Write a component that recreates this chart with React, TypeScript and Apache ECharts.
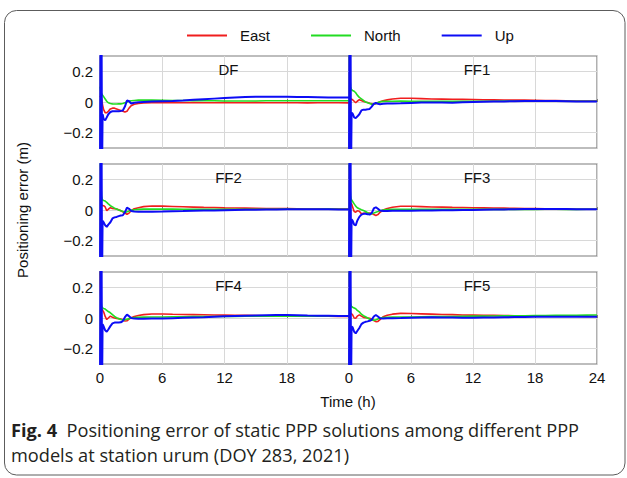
import React, { useEffect, useRef } from "react";
import * as echarts from "echarts";

// Time axis (hours) shared by every panel
const T = [
  0, 0.05, 0.1, 0.15, 0.2, 0.25,
  0.35, 0.5, 0.65, 0.8,
  1.0, 1.2, 1.4, 1.6, 1.8,
  2.0, 2.2, 2.4, 2.6, 2.8,
  3.0, 3.3, 3.7, 4.2,
  5, 6, 7, 8, 9, 10, 11, 12, 13, 14, 15, 16, 17, 18, 19, 20, 21, 22, 23, 24,
];

// DF
const DF_EAST = [
  0.04, 0.04, 0.03, 0.02, 0.0, -0.02,
  -0.05, -0.07, -0.07, -0.06,
  -0.045, -0.04, -0.04, -0.045, -0.05,
  -0.055, -0.06, -0.065, -0.06, -0.04,
  -0.025, -0.015, -0.01, -0.006,
  -0.005, -0.004, -0.004, -0.005, -0.004, -0.005, -0.005, -0.004, -0.005, -0.005, -0.004, -0.005, -0.005, -0.005, -0.005, -0.006, -0.005, -0.005, -0.005, -0.006,
];
const DF_NORTH = [
  0.1, 0.08, 0.06, 0.055, 0.05, 0.045,
  0.035, 0.02, 0.005, -0.005,
  -0.01, -0.012, -0.013, -0.013, -0.012,
  -0.012, -0.01, -0.005, 0.0, 0.005,
  0.008, 0.01, 0.012, 0.012,
  0.012, 0.011, 0.01, 0.01, 0.009, 0.008, 0.008, 0.007, 0.007, 0.007, 0.007, 0.008, 0.008, 0.008, 0.008, 0.008, 0.008, 0.008, 0.008, 0.008,
];
const DF_UP = [
  -0.45, 0.45, -0.45, 0.45, -0.45, -0.08,
  -0.11, -0.12, -0.1, -0.08,
  -0.065, -0.06, -0.06, -0.06, -0.06,
  -0.058, -0.055, -0.03, 0.01, 0.005,
  -0.01, -0.005, -0.002, 0.0,
  0.003, 0.005, 0.007, 0.01, 0.014, 0.018, 0.022, 0.026, 0.03, 0.033, 0.034, 0.035, 0.035, 0.034, 0.033, 0.032, 0.031, 0.03, 0.03, 0.03,
];

// FF1
const FF1_EAST = [
  0.02, 0.02, 0.02, 0.02, 0.02, 0.02,
  0.015, 0.005, -0.005, 0.005,
  0.015, 0.01, 0.003, 0.0, -0.003,
  -0.008, -0.012, -0.015, -0.012, -0.005,
  0.002, 0.008, 0.014, 0.02,
  0.024, 0.024, 0.022, 0.02, 0.019, 0.018, 0.017, 0.016, 0.015, 0.014, 0.013, 0.012, 0.012, 0.011, 0.01, 0.009, 0.008, 0.007, 0.006, 0.006,
];
const FF1_NORTH = [
  0.45, 0.3, 0.15, 0.1, 0.085, 0.08,
  0.075, 0.07, 0.06, 0.045,
  0.03, 0.02, 0.01, 0.0, -0.005,
  -0.01, -0.015, -0.015, -0.01, -0.003,
  0.002, 0.004, 0.005, 0.005,
  0.006, 0.005, 0.005, 0.004, 0.005, 0.005, 0.004, 0.005, 0.005, 0.005, 0.006, 0.005, 0.005, 0.005, 0.006, 0.005, 0.005, 0.005, 0.005, 0.005,
];
const FF1_UP = [
  -0.45, 0.45, -0.45, 0.45, -0.45, -0.07,
  -0.075, -0.1, -0.105, -0.095,
  -0.08, -0.055, -0.05, -0.05, -0.048,
  -0.045, -0.03, -0.012, -0.005, -0.012,
  -0.014, -0.012, -0.01, -0.009,
  -0.008, -0.006, -0.004, -0.003, -0.004, -0.005, -0.002, 0.0, 0.002, 0.003, 0.004, 0.005, 0.006, 0.007, 0.007, 0.006, 0.005, 0.004, 0.004, 0.004,
];

// FF2
const FF2_EAST = [
  0.03, 0.03, 0.03, 0.03, 0.03, 0.03,
  0.028, 0.02, -0.005, 0.005,
  0.015, 0.01, 0.008, 0.006, 0.002,
  -0.005, -0.012, -0.02, -0.028, -0.02,
  -0.005, 0.008, 0.015, 0.022,
  0.026, 0.025, 0.023, 0.021, 0.019, 0.017, 0.016, 0.014, 0.013, 0.012, 0.011, 0.01, 0.009, 0.009, 0.008, 0.007, 0.007, 0.006, 0.006, 0.006,
];
const FF2_NORTH = [
  0.45, 0.3, 0.15, 0.09, 0.075, 0.065,
  0.062, 0.058, 0.05, 0.04,
  0.028, 0.02, 0.012, 0.006, 0.0,
  -0.004, -0.01, -0.014, -0.012, -0.006,
  -0.002, 0.002, 0.004, 0.006,
  0.007, 0.006, 0.006, 0.005, 0.005, 0.005, 0.004, 0.005, 0.005, 0.004, 0.005, 0.005, 0.005, 0.006, 0.005, 0.005, 0.005, 0.006, 0.005, 0.005,
];
const FF2_UP = [
  -0.45, 0.45, -0.45, 0.45, -0.45, -0.07,
  -0.08, -0.1, -0.11, -0.095,
  -0.08, -0.055, -0.048, -0.045, -0.04,
  -0.036, -0.034, -0.015, 0.015, 0.008,
  -0.006, -0.01, -0.012, -0.012,
  -0.011, -0.01, -0.008, -0.007, -0.005, -0.004, -0.003, -0.001, 0.0, 0.001, 0.002, 0.003, 0.004, 0.005, 0.005, 0.005, 0.005, 0.005, 0.004, 0.004,
];

// FF3
const FF3_EAST = [
  0.05, 0.05, 0.05, 0.045, 0.042, 0.04,
  0.02, -0.01, -0.014, -0.005,
  -0.008, -0.025, -0.022, -0.02, -0.02,
  -0.02, -0.022, -0.03, -0.036, -0.03,
  -0.015, 0.0, 0.01, 0.018,
  0.024, 0.024, 0.022, 0.02, 0.019, 0.017, 0.016, 0.015, 0.014, 0.013, 0.012, 0.011, 0.01, 0.009, 0.008, 0.007, 0.006, 0.005, 0.005, 0.005,
];
const FF3_NORTH = [
  0.45, 0.3, 0.15, 0.09, 0.072, 0.065,
  0.055, 0.04, 0.025, 0.015,
  0.008, 0.002, -0.003, -0.01, -0.018,
  -0.024, -0.025, -0.02, -0.014, -0.01,
  -0.005, 0.0, 0.003, 0.004,
  0.005, 0.005, 0.005, 0.004, 0.005, 0.004, 0.004, 0.005, 0.005, 0.004, 0.004, 0.005, 0.004, 0.004, 0.005, 0.005, 0.004, 0.004, 0.005, 0.005,
];
const FF3_UP = [
  -0.45, 0.45, -0.45, 0.45, -0.45, -0.06,
  -0.07, -0.095, -0.1, -0.07,
  -0.045, -0.03, -0.025, -0.025, -0.027,
  -0.03, -0.02, 0.01, 0.018, 0.008,
  -0.004, -0.006, -0.006, -0.005,
  -0.005, -0.005, -0.004, -0.003, -0.002, -0.002, 0.0, 0.0, 0.002, 0.003, 0.004, 0.005, 0.006, 0.007, 0.007, 0.006, 0.006, 0.005, 0.005, 0.005,
];

// FF4
const FF4_EAST = [
  0.45, 0.2, 0.08, 0.06, 0.055, 0.055,
  0.04, 0.01, -0.01, 0.0,
  0.012, 0.005, 0.0, -0.003, -0.004,
  -0.006, -0.012, -0.02, -0.018, -0.008,
  0.002, 0.01, 0.016, 0.022,
  0.026, 0.026, 0.024, 0.023, 0.022, 0.021, 0.02, 0.019, 0.018, 0.017, 0.016, 0.015, 0.014, 0.013, 0.012, 0.012, 0.011, 0.011, 0.01, 0.01,
];
const FF4_NORTH = [
  0.45, 0.3, 0.12, 0.08, 0.07, 0.066,
  0.062, 0.058, 0.05, 0.042,
  0.034, 0.022, 0.01, 0.002, -0.005,
  -0.01, -0.011, -0.012, -0.008, -0.004,
  0.0, 0.003, 0.005, 0.006,
  0.007, 0.007, 0.008, 0.008, 0.009, 0.009, 0.01, 0.01, 0.01, 0.011, 0.011, 0.011, 0.012, 0.012, 0.012, 0.012, 0.012, 0.013, 0.013, 0.013,
];
const FF4_UP = [
  -0.45, 0.45, -0.45, 0.45, -0.45, -0.04,
  -0.055, -0.08, -0.09, -0.075,
  -0.053, -0.035, -0.03, -0.03, -0.03,
  -0.028, -0.02, 0.005, 0.022, 0.012,
  0.0, -0.004, -0.005, -0.005,
  -0.004, -0.003, -0.001, 0.001, 0.003, 0.005, 0.008, 0.011, 0.013, 0.015, 0.017, 0.018, 0.019, 0.019, 0.018, 0.016, 0.015, 0.014, 0.013, 0.013,
];

// FF5
const FF5_EAST = [
  0.03, 0.03, 0.03, 0.03, 0.03, 0.03,
  0.02, 0.0, -0.002, 0.012,
  0.02, 0.012, 0.004, 0.002, 0.0,
  -0.002, -0.008, -0.016, -0.024, -0.022,
  -0.01, 0.008, 0.018, 0.025,
  0.03, 0.029, 0.027, 0.025, 0.023, 0.022, 0.02, 0.019, 0.018, 0.017, 0.016, 0.015, 0.014, 0.013, 0.012, 0.012, 0.011, 0.011, 0.01, 0.01,
];
const FF5_NORTH = [
  0.45, 0.3, 0.15, 0.1, 0.08, 0.075,
  0.07, 0.065, 0.06, 0.05,
  0.04, 0.025, 0.015, 0.008, 0.0,
  -0.008, -0.013, -0.014, -0.012, -0.006,
  0.0, 0.003, 0.005, 0.006,
  0.007, 0.007, 0.008, 0.009, 0.009, 0.01, 0.011, 0.012, 0.012, 0.013, 0.014, 0.014, 0.015, 0.016, 0.016, 0.017, 0.018, 0.018, 0.019, 0.02,
];
const FF5_UP = [
  -0.45, 0.45, -0.45, 0.45, -0.45, -0.055,
  -0.06, -0.09, -0.1, -0.085,
  -0.065, -0.04, -0.03, -0.025, -0.022,
  -0.018, -0.012, 0.01, 0.02, 0.01,
  -0.002, -0.003, -0.002, -0.001,
  0.0, 0.002, 0.004, 0.005, 0.004, 0.003, 0.002, 0.002, 0.003, 0.004, 0.005, 0.006, 0.007, 0.008, 0.008, 0.008, 0.008, 0.008, 0.008, 0.008,
];

const PANEL_NAMES = ["DF", "FF1", "FF2", "FF3", "FF4", "FF5"];
const EAST = [DF_EAST, FF1_EAST, FF2_EAST, FF3_EAST, FF4_EAST, FF5_EAST];
const NORTH = [DF_NORTH, FF1_NORTH, FF2_NORTH, FF3_NORTH, FF4_NORTH, FF5_NORTH];
const UP = [DF_UP, FF1_UP, FF2_UP, FF3_UP, FF4_UP, FF5_UP];

const COMPONENTS = ["East", "North", "Up"];
const X_TICKS = { min: 0, max: 24, interval: 6 };
const Y_RANGE = { min: -0.3, max: 0.3, interval: 0.1 };
const Y_GRID = [-0.2, 0, 0.2];

const COLORS = ["#f01e1e", "#22dc22", "#0c0cf5"];
const FONT = "'Liberation Sans', Arial, sans-serif";
const CAPTION_FONT = "'Open Sans', 'Noto Sans', sans-serif";
const GRID_COLOR = "#d8d8d8";

const COL_LEFT = [100, 349];
const COL_WIDTH = [249, 248];
const ROW_TOP = [56, 164, 272];
const PANEL_H = 92;

function yLabel(v: number): string {
  const k = Math.round(v * 10);
  if (k % 2 !== 0) return "";
  if (k === 0) return "0";
  return (k < 0 ? "\u2212" : "") + Math.abs(k / 10).toFixed(1);
}

export default function App() {
  const ref = useRef<HTMLDivElement>(null);

  useEffect(() => {
    if (!ref.current) return;
    const chart = echarts.init(ref.current, undefined, { renderer: "svg" });

    const grids: any[] = [];
    const xAxes: any[] = [];
    const yAxes: any[] = [];
    const series: any[] = [];
    const graphics: any[] = [];

    PANEL_NAMES.forEach((name, p) => {
      const row = Math.floor(p / 2);
      const col = p % 2;
      const left = COL_LEFT[col];
      const width = COL_WIDTH[col];
      const top = ROW_TOP[row];

      grids.push({
        left,
        top,
        width,
        height: PANEL_H,
        show: true,
        borderColor: "#7d7d7d",
        borderWidth: 1.2,
        backgroundColor: "#fff",
        containLabel: false,
      });

      xAxes.push({
        type: "value",
        gridIndex: p,
        min: X_TICKS.min,
        max: X_TICKS.max,
        interval: X_TICKS.interval,
        axisLine: { show: false },
        axisTick: { show: true, inside: true, length: 3, lineStyle: { color: "#7d7d7d" } },
        splitLine: { show: true, lineStyle: { color: GRID_COLOR, width: 1 } },
        axisLabel: {
          show: row === 2,
          margin: 6,
          fontSize: 15,
          fontFamily: FONT,
          color: "#111",
          formatter: (v: number) => (col === 0 && v === 24 ? "" : String(v)),
        },
      });

      yAxes.push({
        type: "value",
        gridIndex: p,
        min: Y_RANGE.min,
        max: Y_RANGE.max,
        interval: Y_RANGE.interval,
        axisLine: { show: false },
        axisTick: { show: false },
        splitLine: { show: false },
        axisLabel: {
          show: col === 0,
          margin: 7,
          fontSize: 15,
          fontFamily: FONT,
          color: "#111",
          formatter: yLabel,
        },
      });

      // horizontal grid lines at the labelled values, drawn just beneath the data
      series.push({
        type: "line",
        xAxisIndex: p,
        yAxisIndex: p,
        data: [],
        z: 3,
        silent: true,
        markLine: {
          silent: true,
          animation: false,
          z: 3,
          symbol: ["none", "none"],
          label: { show: false },
          lineStyle: { color: GRID_COLOR, type: "solid", width: 1 },
          data: Y_GRID.map((v) => ({ yAxis: v })),
        },
      });

      const sets = [EAST[p], NORTH[p], UP[p]];
      sets.forEach((vals, k) => {
        series.push({
          name: COMPONENTS[k],
          type: "line",
          xAxisIndex: p,
          yAxisIndex: p,
          data: T.map((t, i) => [t, vals[i]]),
          symbol: "none",
          showSymbol: false,
          clip: true,
          z: 6 + k,
          lineStyle: { color: COLORS[k], width: k === 2 ? 2 : 1.6 },
          itemStyle: { color: COLORS[k] },
        });
      });

      graphics.push({
        type: "text",
        x: left + width / 2 + 4,
        y: top + 13,
        z: 10,
        style: {
          text: name,
          font: `15px ${FONT}`,
          fill: "#111",
          align: "center",
          verticalAlign: "middle",
        },
      });
    });

    // outer frame
    graphics.push({
      type: "rect",
      z: -1,
      shape: { x: 4.5, y: 10.5, width: 620.5, height: 464.5, r: 12 },
      style: { fill: "none", stroke: "#5c5c5c", lineWidth: 1 },
    });

    // axis titles
    graphics.push({
      type: "text",
      x: 348,
      y: 401,
      style: {
        text: "Time (h)",
        font: `15px ${FONT}`,
        fill: "#111",
        align: "center",
        verticalAlign: "middle",
      },
    });
    graphics.push({
      type: "text",
      x: 22,
      y: 210,
      rotation: Math.PI / 2,
      style: {
        text: "Positioning error (m)",
        font: `15px ${FONT}`,
        fill: "#111",
        align: "center",
        verticalAlign: "middle",
      },
    });

    // caption
    graphics.push({
      type: "text",
      x: 11,
      y: 430,
      style: {
        text: "{b|Fig. 4}  Positioning error of static PPP solutions among different PPP",
        font: `18.2px ${CAPTION_FONT}`,
        fill: "#231f20",
        verticalAlign: "middle",
        rich: { b: { fontWeight: "bold", fontSize: 18.2, fontFamily: CAPTION_FONT } },
      },
    });
    graphics.push({
      type: "text",
      x: 11,
      y: 455,
      style: {
        text: "models at station urum (DOY 283, 2021)",
        font: `18.2px ${CAPTION_FONT}`,
        fill: "#231f20",
        verticalAlign: "middle",
      },
    });

    chart.setOption({
      animation: false,
      backgroundColor: "#fff",
      legend: {
        data: COMPONENTS,
        left: 182,
        top: 23,
        icon: "rect",
        itemWidth: 40,
        itemHeight: 2,
        itemGap: 41,
        textStyle: { fontSize: 15, fontFamily: FONT, color: "#111", padding: [0, 0, 0, 8] },
      },
      grid: grids,
      xAxis: xAxes,
      yAxis: yAxes,
      series,
      graphic: graphics,
    });

    return () => chart.dispose();
  }, []);

  return (
    <div
      ref={ref}
      style={{ position: "absolute", left: 0, top: 0, width: 627, height: 478 }}
    />
  );
}
